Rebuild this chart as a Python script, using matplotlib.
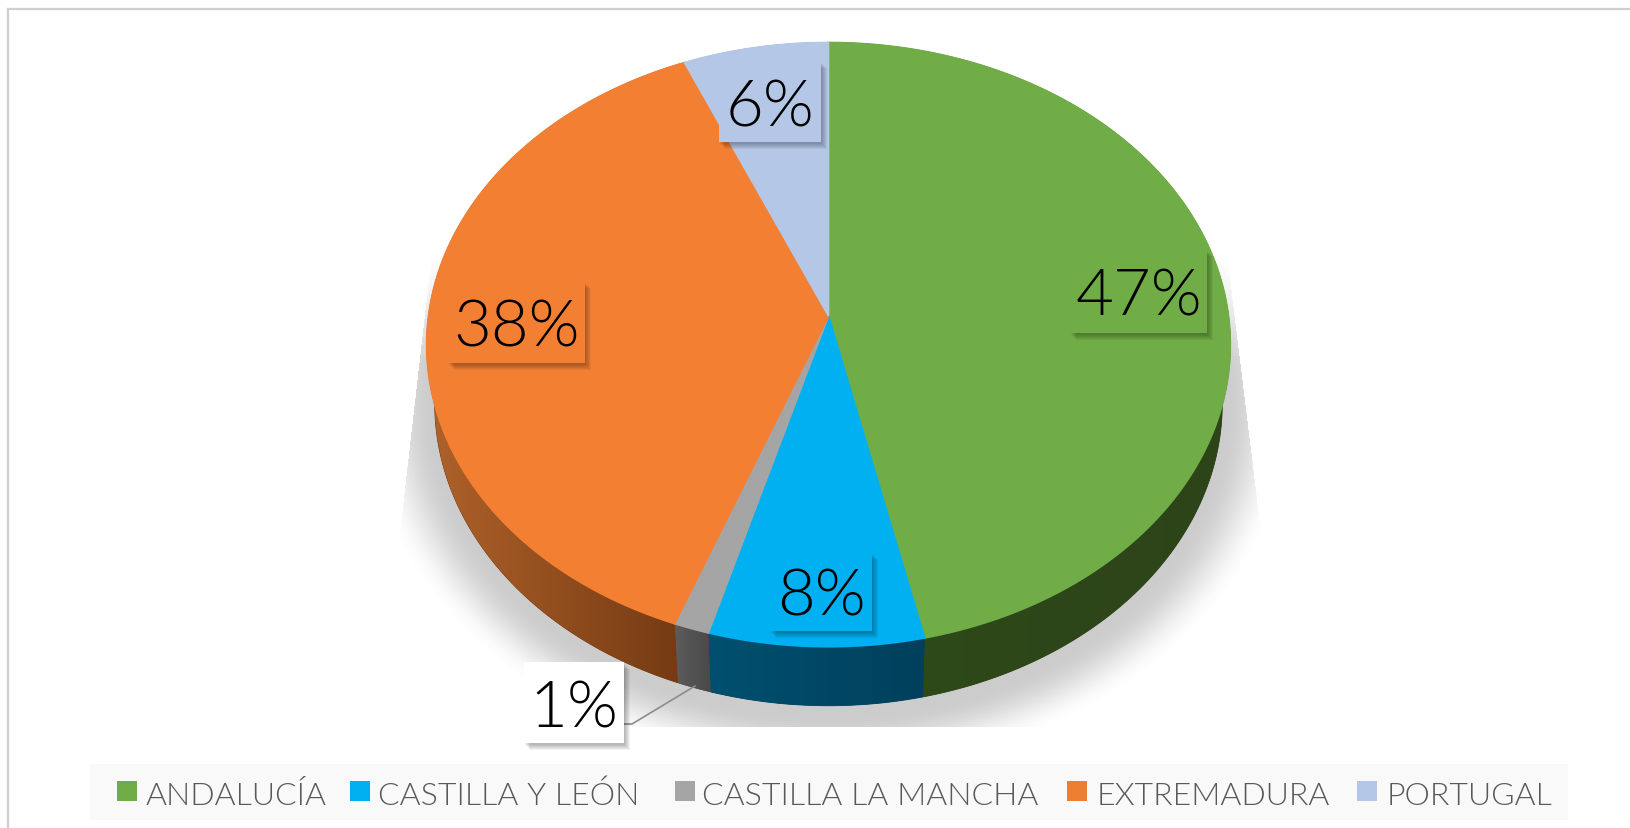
import numpy as np
import matplotlib
matplotlib.use('Agg')
import matplotlib.pyplot as plt
from matplotlib.patches import Polygon, Rectangle

categories = ['ANDALUCÍA', 'CASTILLA Y LEÓN', 'CASTILLA LA MANCHA', 'EXTREMADURA', 'PORTUGAL']
values = [46.5, 7.9, 1.3, 37.9, 6.4]
pct_labels = ['47%', '8%', '1%', '38%', '6%']
top_colors = ['#70AD47', '#00B0F0', '#A5A5A5', '#F37F32', '#B4C7E7']
legend_colors = ['#70AD47', '#00B0F0', '#A5A5A5', '#ED7D31', '#B4C7E7']
wall_left = ['#2D4A1A', '#005070', '#5C5C5C', '#B0622A', '#6F86AD']
wall_right = ['#2D4419', '#00405C', '#4A4A4A', '#743A13', '#6F86AD']

# pie geometry in pixels
cx, cy = 828.5, 317
a, b, k = 400, 299.4, 0.0947
depth = 59
bottom_scale = 0.98

fig = plt.figure(figsize=(16.30, 8.29), dpi=100, facecolor='white')
ax = fig.add_axes([0, 0, 1, 1])
ax.axis('off')


def project(t):
    # t is clockwise from the top of the pie, the disc is tilted in perspective
    u = np.sin(t)
    v = np.cos(t)
    w = 1 + k * v
    return cx + a * u / w, cy - b * v / w


def soft_box(x0, y0, x1, y1, color):
    # label box with a small soft shadow
    for off in [7, 6, 5, 4, 3, 2]:
        ax.add_patch(Rectangle((x0 + off - 1, y0 + off), x1 - x0, y1 - y0, fc='black',
                               ec='none', alpha=0.05, zorder=6))
    ax.add_patch(Rectangle((x0, y0), x1 - x0, y1 - y0, fc=color, ec='none', zorder=7))


# frame
ax.plot([8, 8], [829, 10], color='#CFCFCF', lw=1.6, zorder=1)
ax.plot([8, 1630], [10, 10], color='#CFCFCF', lw=1.6, zorder=1)

# shadow under the pie
yy, xx = np.mgrid[0:829, 0:1630]
r = np.sqrt(((xx - cx) / 412.0) ** 2 + ((yy - 405) / 325.0) ** 2)
fade = np.clip((1.13 - r) / 0.17, 0, 1)
fade = fade * fade * (3 - 2 * fade)
top_fade = np.clip((yy - 250) / 110.0, 0, 1)
left_edge = 432 - 31 * (yy - 250) / 270.0
right_edge = 1226 + 33 * (yy - 250) / 270.0
mask = (yy > 250) & (yy < 728) & (xx > left_edge) & (xx < right_edge)
shadow = np.zeros((829, 1630, 4))
shadow[..., :3] = 0.45
shadow[..., 3] = 0.36 * fade * mask * top_fade
ax.imshow(shadow, extent=(0, 1630, 829, 0), aspect='auto', zorder=2, interpolation='bilinear')

edges = np.cumsum([0] + values) / 100.0 * 2 * np.pi

# side walls
for i in range(len(values)):
    t = np.linspace(edges[i], edges[i + 1], 200)
    x, y = project(t)
    xb = cx + (x - cx) * bottom_scale
    pts = np.column_stack([np.r_[x, xb[::-1]], np.r_[y, y[::-1] + depth]])
    # solid underlay closes the hairline seams between the gradient pieces
    ax.add_patch(Polygon(pts, closed=True, fc=wall_right[i], ec=wall_right[i], lw=0.6, zorder=3))
    poly = Polygon(pts, closed=True, fc='none', ec='none', transform=ax.transData)
    ax.add_patch(poly)
    c0 = np.array(matplotlib.colors.to_rgb(wall_left[i]))
    c1 = np.array(matplotlib.colors.to_rgb(wall_right[i]))
    grad = np.linspace(c0, c1, 256)[np.newaxis, :, :]
    im = ax.imshow(grad, extent=(x.min(), x.max(), y.max() + depth, y.min()), aspect='auto', zorder=3.1)
    im.set_clip_path(poly)

# top of the pie
for i in range(len(values)):
    t = np.linspace(edges[i], edges[i + 1], 300)
    x, y = project(t)
    pts = np.column_stack([np.r_[cx, x], np.r_[cy, y]])
    ax.add_patch(Polygon(pts, closed=True, fc=top_colors[i], ec=top_colors[i], lw=1.2, zorder=4))

# data labels, box x0 y0 x1 y1
boxes = [(1070, 250, 1207, 334), (770, 553, 872, 632), (524, 663, 624, 744),
         (448, 282, 585, 364), (719, 62, 821, 143)]
box_colors = ['#70AD47', '#00B0F0', '#FFFFFF', '#F37F32', '#B4C7E7']
for i in range(len(pct_labels)):
    x0, y0, x1, y1 = boxes[i]
    soft_box(x0, y0, x1, y1, box_colors[i])
    ax.text((x0 + x1) / 2, (y0 + y1) / 2, pct_labels[i], ha='center', va='center_baseline',
            fontsize=47, family='Lato', fontweight=300, color='black', zorder=8)

# leader line of the 1% label
ax.plot([624, 632, 695], [725, 725, 687], color='#8C8C8C', lw=1.2, zorder=5)

# legend
ax.add_patch(Rectangle((90, 765), 1478, 56, fc='#F9F9F9', ec='none', zorder=1))
swatch_x = [117, 350, 675, 1067, 1357]
text_x = [146, 378, 702, 1097, 1387]
for i in range(len(categories)):
    ax.add_patch(Rectangle((swatch_x[i], 782), 20, 20, fc=legend_colors[i], ec='none', zorder=3))
    ax.text(text_x[i], 805, categories[i], ha='left', va='baseline', fontsize=23,
            family='Lato', fontweight=300, color='#595959', zorder=3)

ax.set_xlim(0, 1630)
ax.set_ylim(829, 0)
fig.savefig('out.png', dpi=100, facecolor='white')
